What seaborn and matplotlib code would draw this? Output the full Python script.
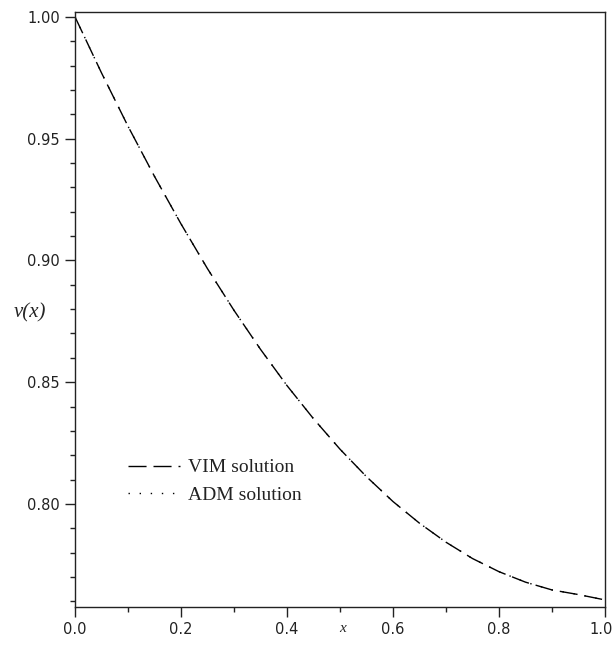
import matplotlib
matplotlib.use("Agg")
import matplotlib.pyplot as plt
import matplotlib.transforms as mtransforms
import seaborn as sns
import pandas as pd
from matplotlib.ticker import MultipleLocator, FormatStrFormatter

# ---- data ----
x_vals = [0.00, 0.05, 0.10, 0.15, 0.20, 0.25, 0.30, 0.35, 0.40, 0.45, 0.50,
          0.55, 0.60, 0.65, 0.70, 0.75, 0.80, 0.85, 0.90, 0.95, 1.00]
vim_vals = [1.0000, 0.9770, 0.9551, 0.9345, 0.9150, 0.8966, 0.8795, 0.8635,
            0.8486, 0.8350, 0.8225, 0.8112, 0.8010, 0.7921, 0.7843, 0.7776,
            0.7722, 0.7679, 0.7647, 0.7628, 0.7606]
adm_vals = [1.0000, 0.9770, 0.9551, 0.9345, 0.9150, 0.8966, 0.8795, 0.8635,
            0.8486, 0.8350, 0.8225, 0.8112, 0.8010, 0.7921, 0.7843, 0.7776,
            0.7722, 0.7679, 0.7647, 0.7628, 0.7606]
series_names = ["VIM solution", "ADM solution"]
x_ticks = [0.0, 0.2, 0.4, 0.6, 0.8, 1.0]
y_ticks = [0.80, 0.85, 0.90, 0.95, 1.00]

sns.set_style("white")
plt.rcParams["font.family"] = ["DejaVu Sans"]

df_vim = pd.DataFrame({"x": x_vals, "v": vim_vals})
df_adm = pd.DataFrame({"x": x_vals, "v": adm_vals})

fig = plt.figure(figsize=(6.15, 6.45), dpi=100)
ax = fig.add_axes([75 / 615, 1 - 607 / 645, 530 / 615, 595 / 645])

sns.lineplot(data=df_vim, x="x", y="v", ax=ax, color="black", lw=1.0,
             linestyle=(0, (13, 5)), label=series_names[0])
sns.lineplot(data=df_adm, x="x", y="v", ax=ax, color="black", lw=1.0,
             linestyle=(0, (1, 7)), label=series_names[1])

ax.set_xlim(0, 1.0)
ax.set_ylim(0.7577, 1.002)

ax.set_xticks(x_ticks)
ax.set_yticks(y_ticks)
ax.xaxis.set_minor_locator(MultipleLocator(0.1))
ax.yaxis.set_minor_locator(MultipleLocator(0.01))
ax.xaxis.set_major_formatter(FormatStrFormatter("%.1f"))
ax.yaxis.set_major_formatter(FormatStrFormatter("%.2f"))

ax.tick_params(axis="both", which="major", direction="out", length=7,
               width=1, color="#222222", labelsize=10.5, pad=4,
               labelcolor="#222222")
ax.tick_params(axis="both", which="minor", direction="out", length=3.5,
               width=1, color="#222222")
ax.tick_params(axis="x", which="both", bottom=True, top=False)
ax.tick_params(axis="y", which="both", left=True, right=False)

for sp in ax.spines.values():
    sp.set_visible(True)
    sp.set_color("#222222")
    sp.set_linewidth(1.0)

ax.set_xlabel("x", fontsize=11, family=["Liberation Serif"], style="italic")
ax.xaxis.set_label_coords(0.505, -0.026)
ax.set_ylabel("v(x)", fontsize=15, family=["Liberation Serif"], style="italic",
              rotation=0, va="center", ha="center")
ax.yaxis.set_label_coords(-0.085, 0.494)

leg = ax.legend(loc="upper left", bbox_to_anchor=(0.085, 0.262), frameon=False,
                prop={"family": "Liberation Serif", "size": 14},
                handlelength=2.7, handletextpad=0.4, labelspacing=0.5,
                borderaxespad=0.0)
for t in leg.get_texts():
    t.set_color("#222222")

# nudge the last x tick label so it stays inside the figure
fig.canvas.draw()
last = ax.get_xticklabels()[-1]
last.set_transform(last.get_transform() +
                   mtransforms.ScaledTranslation(-4 / 100, 0, fig.dpi_scale_trans))

fig.savefig("out.png", dpi=100, facecolor="white")
